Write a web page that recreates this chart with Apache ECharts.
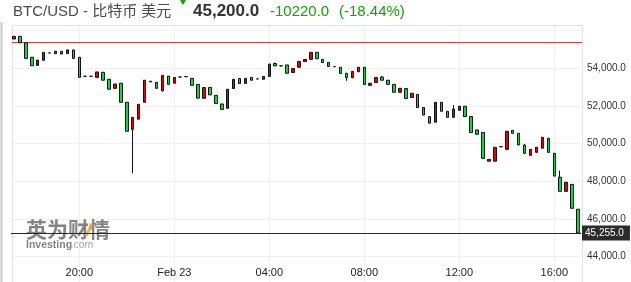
<!DOCTYPE html>
<html><head><meta charset="utf-8">
<script src="https://cdn.jsdelivr.net/npm/echarts@6/dist/echarts.min.js"></script>
<style>html,body{margin:0;padding:0;background:#fff;overflow:hidden}#c{width:631px;height:282px}</style>
</head><body><div id="c"></div><script>
// 15-minute candles, Feb 22 17:15 -> Feb 23 17:00
const categories = [
  '17:15','17:30','17:45','18:00','18:15','18:30','18:45','19:00','19:15','19:30','19:45',
  '20:00','20:15','20:30','20:45','21:00','21:15','21:30','21:45','22:00','22:15','22:30','22:45',
  '23:00','23:15','23:30','23:45','00:00','00:15','00:30','00:45','01:00','01:15','01:30','01:45',
  '02:00','02:15','02:30','02:45','03:00','03:15','03:30','03:45','04:00','04:15','04:30','04:45',
  '05:00','05:15','05:30','05:45','06:00','06:15','06:30','06:45','07:00','07:15','07:30','07:45',
  '08:00','08:15','08:30','08:45','09:00','09:15','09:30','09:45','10:00','10:15','10:30','10:45',
  '11:00','11:15','11:30','11:45','12:00','12:15','12:30','12:45','13:00','13:15','13:30','13:45',
  '14:00','14:15','14:30','14:45','15:00','15:15','15:30','15:45','16:00','16:15','16:30','16:45','17:00'
];
const opens = [
  55560,55700,55360,54590,54160,54430,54820,54780,54910,54780,54980,54590,
  53580,53580,53520,53790,53420,52940,53210,52200,50760,51300,52200,53320,
  53260,52800,53590,53210,53540,53560,53470,53150,52410,52990,52570,52110,
  51880,52930,53460,53200,53520,53440,53420,53570,54260,54130,54180,53780,
  54060,54360,54480,54850,54480,54320,54090,54060,53740,53500,53820,54060,
  53100,53250,53540,53370,53150,52730,52930,52450,52620,51920,51440,51140,
  52200,51720,51400,51770,51990,51440,50730,50600,49070,49070,49840,49700,
  50710,50550,49930,49380,49540,49760,50290,49490,48220,47470,47840,46520
];
const closes = [
  55700,55360,54530,54140,54440,54850,54820,54910,54760,54980,54530,53520,
  53580,53580,53810,53370,52890,53170,52200,50660,51400,52090,53370,53280,
  52940,53630,53150,53520,53540,53560,53100,52420,52980,52590,52130,51820,
  52890,53420,53190,53470,53370,53440,53570,54230,54130,54130,53740,53990,
  54370,54470,54850,54510,54310,54100,54090,53730,53520,53840,54060,53140,
  53210,53520,53370,53150,52730,52940,52400,52680,51920,51520,51090,52200,
  51720,51400,51840,51990,51440,50590,50500,49220,49170,49810,49840,50660,
  50550,49930,49490,49700,49810,50340,49540,48280,47470,47950,46570,45255
];
// visible wicks (index -> price)
const wickLows = { 20: 48430, 56: 53340 };
const wickHighs = { 44: 54310, 62: 53590, 74: 52050, 86: 49990, 92: 48570 };
const prevClose = 55420;
const lastPrice = 45255;
const tickLabels = { '20:00': '20:00', '00:00': 'Feb 23', '04:00': '04:00', '08:00': '08:00', '12:00': '12:00', '16:00': '16:00' };
const yMin = 44000, yMax = 56000, yStep = 2000;

const ohlc = opens.map((o, i) => {
  const c = closes[i];
  const lo = wickLows[i] !== undefined ? wickLows[i] : Math.min(o, c);
  const hi = wickHighs[i] !== undefined ? wickHighs[i] : Math.max(o, c);
  return [o, c, lo, hi];
});

const FONT = '"Liberation Sans", Arial, "Noto Sans CJK SC", sans-serif';
const fmt1 = (v) => v.toLocaleString('en-US', { minimumFractionDigits: 1, maximumFractionDigits: 1 });
const chart = echarts.init(document.getElementById('c'), null, { renderer: 'canvas' });

const staticGraphics = [
  { type: 'line', shape: { x1: 1.5, y1: 22, x2: 1.5, y2: 282 }, style: { stroke: '#c9c9c9', lineWidth: 2 }, silent: true },
  { type: 'line', shape: { x1: 12.5, y1: 25.5, x2: 582.5, y2: 25.5 }, style: { stroke: '#dfe2e7', lineWidth: 1 }, silent: true },
  { type: 'line', shape: { x1: 12.5, y1: 25.5, x2: 12.5, y2: 282 }, style: { stroke: '#dfe2e7', lineWidth: 1 }, silent: true },
  { type: 'line', shape: { x1: 582.5, y1: 25.5, x2: 582.5, y2: 282 }, style: { stroke: '#dfe2e7', lineWidth: 1 }, silent: true },
  { type: 'text', left: 13, top: 4, style: { text: 'BTC/USD - 比特币 美元', font: '15px ' + FONT, fill: '#4a4a4a' }, silent: true },
  { type: 'polygon', shape: { points: [[180, 0], [186, 0], [183, 5]] }, style: { fill: '#0ea600' }, silent: true },
  { type: 'text', left: 193, top: 3, style: { text: '45,200.0', font: 'bold 17px ' + FONT, fill: '#333' }, silent: true },
  { type: 'text', left: 270, top: 4, style: { text: '-10220.0', font: '15px ' + FONT, fill: '#0ea600' }, silent: true },
  { type: 'text', left: 339, top: 4, style: { text: '(-18.44%)', font: '15px ' + FONT, fill: '#0ea600' }, silent: true },
  { type: 'text', left: 26, top: 219, z: 1, style: { text: '英为财情', font: 'bold 21px "Noto Sans CJK SC", sans-serif', fill: 'rgba(110,110,110,0.85)' }, silent: true },
  { type: 'line', z: 2, shape: { x1: 92, y1: 224, x2: 86, y2: 236 }, style: { stroke: 'rgba(245,166,35,0.85)', lineWidth: 3 }, silent: true },
  { type: 'text', left: 26, top: 240, z: 1, style: { text: 'Investing', font: 'bold 10.5px ' + FONT, fill: 'rgba(110,110,110,0.85)' }, silent: true },
  { type: 'text', left: 70.5, top: 240, z: 1, style: { text: '.com', font: '10.5px ' + FONT, fill: 'rgba(150,150,150,0.85)' }, silent: true }
];

chart.setOption({
  animation: false,
  backgroundColor: '#fff',
  grid: { left: 11, right: 50, top: 30.7, bottom: 25.3, containLabel: false },
  xAxis: {
    type: 'category',
    data: categories,
    boundaryGap: true,
    axisLine: { show: false },
    axisTick: { show: false },
    splitLine: { show: false },
    axisLabel: {
      interval: (idx, val) => tickLabels[val] !== undefined,
      formatter: (val) => tickLabels[val] || '',
      color: '#222', fontSize: 11, fontFamily: FONT, margin: 11
    }
  },
  yAxis: {
    type: 'value',
    position: 'right',
    min: yMin, max: yMax, interval: yStep,
    axisLine: { show: false },
    axisTick: { show: false },
    splitLine: { show: true, lineStyle: { color: '#f1f1f1', width: 1 } },
    axisLabel: { showMaxLabel: false, margin: 6, color: '#333', fontSize: 10, fontFamily: FONT, formatter: fmt1 }
  },
  series: [
    {
      type: 'candlestick',
      data: ohlc,
      barWidth: 3,
      z: 5,
      itemStyle: { color: '#f20000', color0: '#00e040', borderColor: '#111', borderColor0: '#111', borderWidth: 1 }
    },
    {
      type: 'line', data: [], z: 6, silent: true,
      markLine: {
        silent: true, symbol: ['none', 'none'], animation: false,
        lineStyle: { color: '#2a2a2a', width: 1, type: 'solid' },
        label: {
          show: true, position: 'end', distance: 1,
          formatter: () => fmt1(lastPrice),
          backgroundColor: '#2b2b2b', color: '#fff', fontSize: 10, fontFamily: FONT,
          padding: [3, 6, 2, 3]
        },
        data: [{ yAxis: lastPrice }]
      }
    }
  ],
  graphic: staticGraphics
});

// vertical grid lines at labelled categories, and the previous-close line, placed through the axes' scales
const vLines = categories.filter(c => tickLabels[c] !== undefined).map(c => {
  const x = Math.round(chart.convertToPixel({ xAxisIndex: 0 }, c)) + 0.5;
  return { type: 'line', z: -10, shape: { x1: x, y1: 26, x2: x, y2: 282 }, style: { stroke: '#f1f1f1', lineWidth: 1 }, silent: true };
});
const yPrev = Math.round(chart.convertToPixel({ yAxisIndex: 0 }, prevClose)) + 0.5;
const prevLine = { type: 'line', z: 4, shape: { x1: 12, y1: yPrev, x2: 582, y2: yPrev }, style: { stroke: '#e8383d', lineWidth: 1.2 }, silent: true };
chart.setOption({ graphic: staticGraphics.concat(vLines, [prevLine]) }, { replaceMerge: ['graphic'] });
</script></body></html>
